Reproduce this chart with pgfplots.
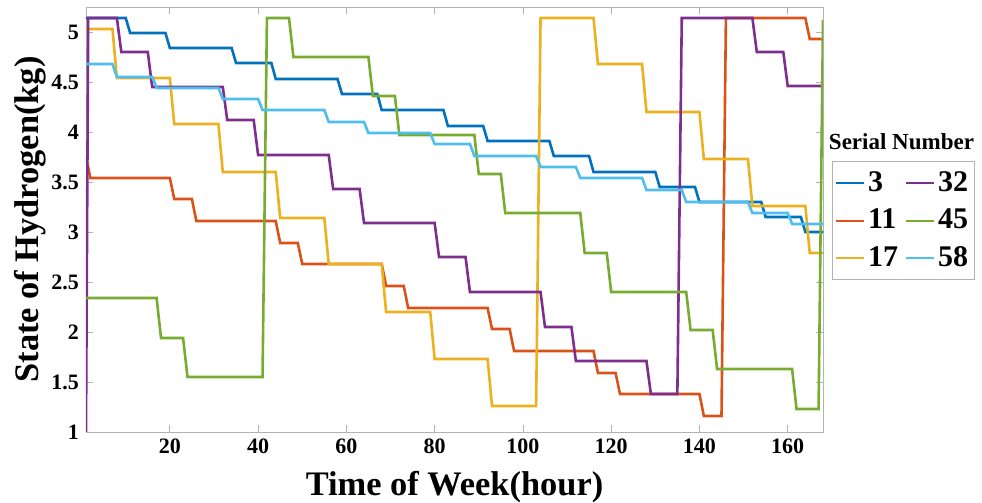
\documentclass[border=0pt]{standalone}
\usepackage{fontspec}
\setmainfont{Liberation Serif}
\usepackage{pgfplots}
\pgfplotsset{compat=1.18}
\definecolor{cA}{HTML}{0072BD}
\definecolor{cB}{HTML}{D95319}
\definecolor{cC}{HTML}{EDB120}
\definecolor{cD}{HTML}{7E2F8E}
\definecolor{cE}{HTML}{77AC30}
\definecolor{cF}{HTML}{4DBEEE}
\begin{document}
\begin{tikzpicture}
\path[use as bounding box] (-43pt,-35.5pt) rectangle (448pt,216pt);
\begin{axis}[at={(0,0)},anchor=south west,scale only axis,
  width=368.5pt,height=212.5pt,
  xmin=1,xmax=168,ymin=1,ymax=5.25,
  xtick={20,40,...,160},ytick={1,1.5,...,5},
  tick align=inside,major tick length=3.5pt,
  axis line style={gray!60},every tick/.style={gray!60},
  clip mode=individual,
  /pgf/number format/assume math mode=true,
  ticklabel style={font=\bfseries\fontsize{11}{12}\selectfont},
  xlabel={Time of Week(hour)},ylabel={State of Hydrogen(kg)},
  label style={font=\bfseries\fontsize{17.2}{19}\selectfont},
  xlabel style={at={(axis description cs:0.5,-0.1294)},anchor=center},
  ylabel style={at={(axis description cs:-0.076,0.5)},anchor=center},
  legend style={at={(axis description cs:1.0117,0.638)},anchor=north west,
    draw=gray!60,font=\bfseries\fontsize{15}{16}\selectfont,
    inner xsep=1.5pt,inner ysep=3pt,row sep=3.5pt,
    nodes={inner xsep=1.5pt},
    /tikz/every even column/.append style={column sep=2pt}},
  legend columns=2,legend cell align=left,
  legend image code/.code={\draw[#1,line width=1pt] (0pt,0pt) -- (14pt,0pt);},
  every axis plot/.append style={line width=1.3pt},
]
% Serial 3
\addplot[cA,forget plot] coordinates {(1,5.14)(10,5.14)(11,4.99)(19,4.99)(20,4.84)(34,4.84)(35,4.69)(43,4.69)(44,4.53)(58,4.53)(59,4.38)(67,4.38)(68,4.22)(82,4.22)(83,4.06)(91,4.06)(92,3.91)(106,3.91)(107,3.76)(115,3.76)(116,3.60)(130,3.60)(131,3.45)(139,3.45)(140,3.30)(154,3.30)(155,3.15)(163,3.15)(164,3.00)(168,3.00)};
% Serial 11
\addplot[cB,forget plot] coordinates {(1,3.75)(2,3.54)(20,3.54)(21,3.33)(25,3.33)(26,3.11)(44,3.11)(45,2.89)(49,2.89)(50,2.68)(68,2.68)(69,2.46)(73,2.46)(74,2.24)(92,2.24)(93,2.03)(97,2.03)(98,1.81)(116,1.81)(117,1.59)(121,1.59)(122,1.38)(140,1.38)(141,1.16)(145,1.16)(146,5.14)(164,5.14)(165,4.93)(168,4.93)};
% Serial 17
\addplot[cC,forget plot] coordinates {(1,5.03)(7,5.03)(8,4.54)(20,4.54)(21,4.08)(31,4.08)(32,3.60)(44,3.60)(45,3.14)(55,3.14)(56,2.68)(68,2.68)(69,2.20)(79,2.20)(80,1.73)(92,1.73)(93,1.26)(103,1.26)(104,5.14)(116,5.14)(117,4.68)(127,4.68)(128,4.20)(140,4.20)(141,3.73)(151,3.73)(152,3.26)(164,3.26)(165,2.79)(168,2.79)};
% Serial 32
\addplot[cD,forget plot] coordinates {(1,1.00)(1.5,5.14)(8,5.14)(9,4.80)(15,4.80)(16,4.45)(32,4.45)(33,4.12)(39,4.12)(40,3.77)(56,3.77)(57,3.43)(63,3.43)(64,3.09)(80,3.09)(81,2.75)(87,2.75)(88,2.40)(104,2.40)(105,2.05)(111,2.05)(112,1.71)(128,1.71)(129,1.38)(135,1.38)(136,5.14)(152,5.14)(153,4.80)(159,4.80)(160,4.46)(168,4.46)};
% Serial 45
\addplot[cE,forget plot] coordinates {(1,2.34)(17,2.34)(18,1.94)(23,1.94)(24,1.55)(41,1.55)(42,5.14)(47,5.14)(48,4.75)(65,4.75)(66,4.36)(71,4.36)(72,3.97)(89,3.97)(90,3.58)(95,3.58)(96,3.19)(113,3.19)(114,2.79)(119,2.79)(120,2.40)(137,2.40)(138,2.02)(143,2.02)(144,1.63)(161,1.63)(162,1.23)(167,1.23)(168,5.12)};
% Serial 58
\addplot[cF,forget plot] coordinates {(1,4.68)(7,4.68)(8,4.55)(16,4.55)(17,4.44)(31,4.44)(32,4.33)(40,4.33)(41,4.22)(55,4.22)(56,4.10)(64,4.10)(65,3.99)(79,3.99)(80,3.88)(88,3.88)(89,3.76)(103,3.76)(104,3.65)(112,3.65)(113,3.54)(127,3.54)(128,3.42)(136,3.42)(137,3.30)(151,3.30)(152,3.19)(160,3.19)(161,3.08)(168,3.08)};
\addlegendimage{cA}\addlegendentry{3}
\addlegendimage{cD}\addlegendentry{32}
\addlegendimage{cB}\addlegendentry{11}
\addlegendimage{cE}\addlegendentry{45}
\addlegendimage{cC}\addlegendentry{17}
\addlegendimage{cF}\addlegendentry{58}
\node[font=\bfseries\fontsize{11.5}{13}\selectfont] at (axis description cs:1.1065,0.682) {Serial Number};
\end{axis}
\end{tikzpicture}
\end{document}
